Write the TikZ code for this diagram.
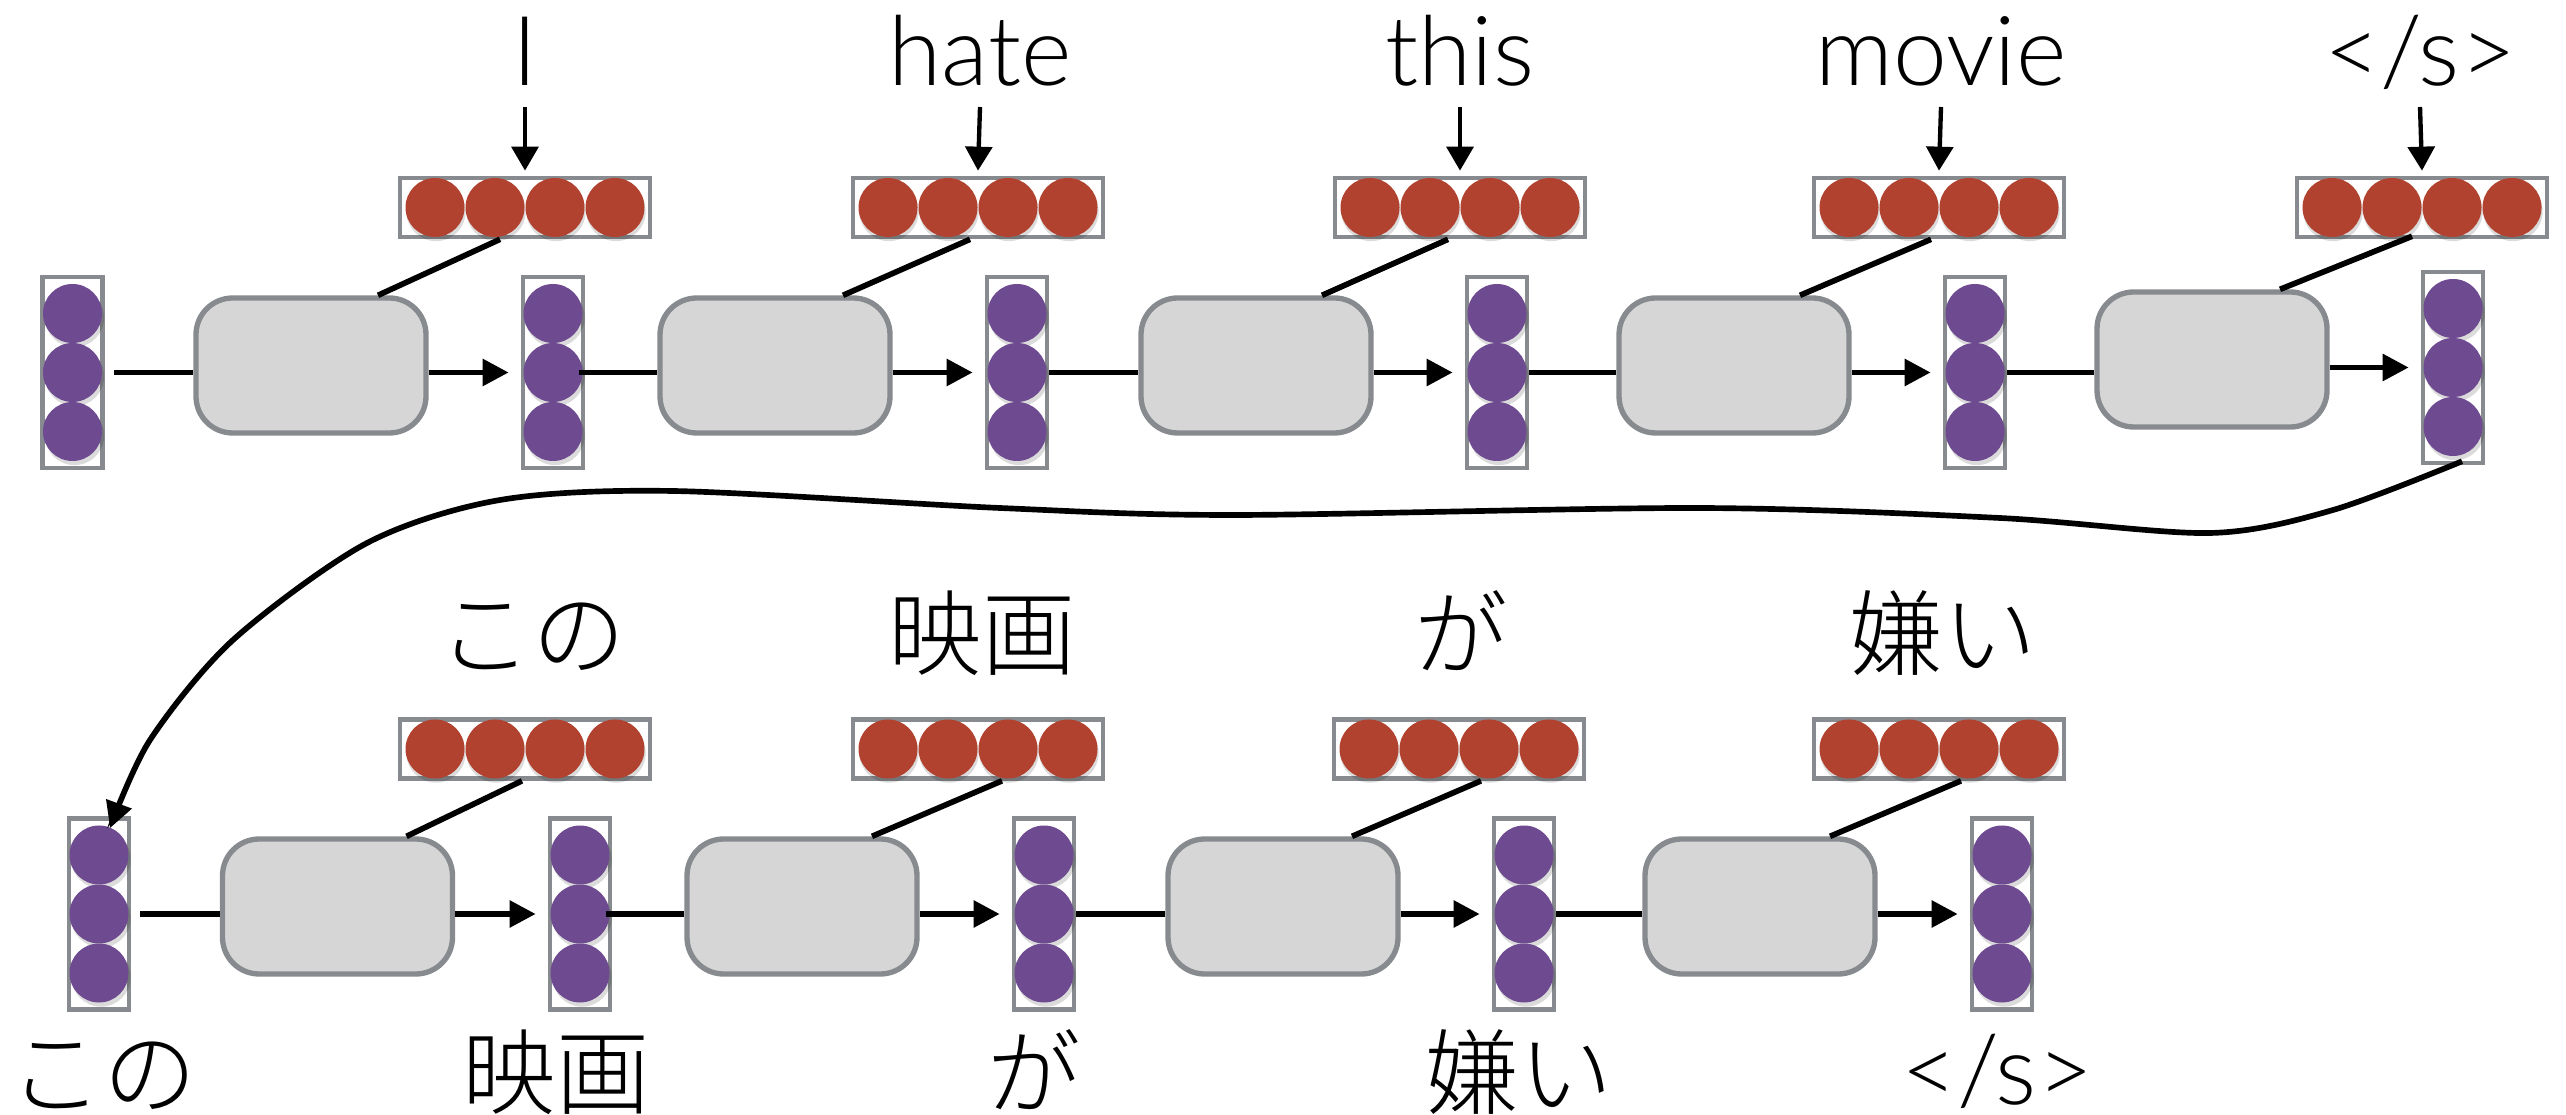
\documentclass[tikz,border=0pt]{standalone}
\usepackage{fontspec}
\setmainfont{Lato Light}
\newfontfamily\jpfont{Noto Sans CJK JP Light}
\usetikzlibrary{arrows.meta,calc}
\definecolor{boxgray}{HTML}{878A8E}
\definecolor{fillgray}{HTML}{D6D6D6}
\definecolor{redc}{HTML}{B24230}
\definecolor{purc}{HTML}{6E4A91}
\newcommand\purplecol[1]{%
  \foreach \dy in {-59,0,59} {
    \fill[black,opacity=0.14] ($(#1)+(2,\dy+4)$) circle (8.9pt);
    \fill[purc] ($(#1)+(0,\dy)$) circle (8.85pt);
  }}
\newcommand\redrow[1]{%
  \foreach \dx in {-90,-30,30,90} {
    \fill[black,opacity=0.14] ($(#1)+(\dx+1,4)$) circle (8.9pt);
    \fill[redc] ($(#1)+(\dx,0)$) circle (8.85pt);
  }}
\begin{document}
\begin{tikzpicture}[x=0.3pt,y=-0.3pt,
  colbox/.style={draw=boxgray,line width=1.4pt,fill=white,minimum width=18pt,minimum height=57.3pt,inner sep=0pt},
  redbox/.style={draw=boxgray,line width=1.4pt,fill=white,minimum width=75pt,minimum height=17.7pt,inner sep=0pt},
  cell/.style={draw=boxgray,line width=1.6pt,fill=fillgray,rounded corners=11pt,minimum width=69pt,minimum height=40.5pt,inner sep=0pt},
  word/.style={font=\fontsize{29pt}{35pt}\selectfont,inner sep=0pt,anchor=base},
  jword/.style={font=\jpfont\fontsize{28pt}{34pt}\selectfont,inner sep=0pt,anchor=base},
  conn/.style={line width=1.7pt},
  arr/.style={line width=1.7pt,-{Triangle[length=7.8pt,width=7.8pt]}},
  warr/.style={line width=1.3pt,-{Triangle[length=7.2pt,width=8pt]}},
]
\useasboundingbox (0,0) rectangle (2566,1115);
\clip (0,0) rectangle (2566,1115);

% ---------- top row ----------
\foreach \n/\x/\y in {c0/72.5/372.5,c1/553/372.5,c2/1017/372.5,c3/1497/372.5,c4/1975/372.5,c5/2453/367.5}
  {\node[colbox] (\n) at (\x,\y) {}; \purplecol{\n}}
\foreach \n/\x/\y in {r1/311/365.5,r2/775/365.5,r3/1256/365.5,r4/1734/365.5,r5/2212/359.5}
  {\node[cell] (\n) at (\x,\y) {};}
\foreach \n/\x in {e1/525,e2/978,e3/1460,e4/1939,e5/2422}
  {\node[redbox] (\n) at (\x,207.5) {}; \redrow{\n}}

\node[word] (w1) at (525,86) {I};
\node[word] (w2) at (980,86) {hate};
\node[word] (w3) at (1460,86) {this};
\node[word] (w4) at (1941,86) {movie};
\node[word] (w5) at (2420,86) {</s>};

\foreach \i in {1,...,5}
  {\draw[warr] ($(w\i.base)+(0,21)$) -- ($(e\i.north)+(0,-5)$);}

% horizontal flow, top
\draw[conn] ([xshift=2.7pt]c0.east) -- (r1.west |- c0);
\draw[conn] ([xshift=-2pt]c1.east) -- (r2.west |- c1);
\draw[conn] (c2.east) -- (r3.west |- c2);
\draw[conn] (c3.east) -- (r4.west |- c3);
\draw[conn] (c4.east) -- (r5.west |- c4);
\draw[arr] (r1.east |- c0) -- ([xshift=-3.6pt]c1.west);
\draw[arr] (r2.east |- c1) -- ([xshift=-3.6pt]c2.west);
\draw[arr] (r3.east |- c2) -- ([xshift=-3.6pt]c3.west);
\draw[arr] (r4.east |- c3) -- ([xshift=-3.6pt]c4.west);
\draw[arr] (r5.east |- c5) -- ([xshift=-3.6pt]c5.west);

% embeddings into cells, top
\draw[conn] ($(e1.south)+(-25,0)$) -- ($(r1.north)+(67,0)$);
\draw[conn] ($(e2.south)+(-8,0)$) -- ($(r2.north)+(68,0)$);
\draw[conn] ($(e3.south)+(-12,0)$) -- ($(r3.north)+(66,0)$);
\draw[conn] ($(e4.south)+(-8,0)$) -- ($(r4.north)+(66,0)$);
\draw[conn] ($(e5.south)+(-10,-3)$) -- ($(r5.north)+(68,0)$);

% ---------- bottom row ----------
\foreach \n/\x in {b0/99,b1/580,b2/1044,b3/1524,b4/2002}
  {\node[colbox] (\n) at (\x,914) {}; \purplecol{\n}}
\foreach \n/\x in {q1/337.5,q2/802,q3/1283,q4/1760}
  {\node[cell] (\n) at (\x,906.5) {};}
\foreach \n/\x in {f1/525,f2/978,f3/1459,f4/1939}
  {\node[redbox] (\n) at (\x,749) {}; \redrow{\n}}

\node[jword] (j1) at (532,669) {この};
\node[jword] (j2) at (982,669) {映画};
\node[jword] (j3) at (1461,669) {が};
\node[jword] (j4) at (1943,669) {嫌い};

\node[jword] (k1) at (103,1107) {この};
\node[jword] (k2) at (556,1107) {映画};
\node[jword] (k3) at (1034,1107) {が};
\node[jword] (k4) at (1519,1107) {嫌い};
\node[word] (k5) at (1997,1104) {</s>};

\draw[conn] ([xshift=2.7pt]b0.east) -- (q1.west |- b0);
\draw[conn] ([xshift=-2pt]b1.east) -- (q2.west |- b1);
\draw[conn] (b2.east) -- (q3.west |- b2);
\draw[conn] (b3.east) -- (q4.west |- b3);
\draw[arr] (q1.east |- b0) -- ([xshift=-3.6pt]b1.west);
\draw[arr] (q2.east |- b1) -- ([xshift=-3.6pt]b2.west);
\draw[arr] (q3.east |- b2) -- ([xshift=-3.6pt]b3.west);
\draw[arr] (q4.east |- b3) -- ([xshift=-3.6pt]b4.west);

\draw[conn] ($(f1.south)+(-3,0)$) -- ($(q1.north)+(69,0)$);
\draw[conn] ($(f2.south)+(24,0)$) -- ($(q2.north)+(70,0)$);
\draw[conn] ($(f3.south)+(22,0)$) -- ($(q3.north)+(69,0)$);
\draw[conn] ($(f4.south)+(22,0)$) -- ($(q4.north)+(70,0)$);

% ---------- long connector from encoder to decoder ----------
\coordinate (cs) at ($(c5.south)+(9,-4)$);
\coordinate (ce) at ($(b0.north)+(11,12)$);
\draw[arr] plot[smooth] coordinates {(cs) (2333,510) (2210,533) (2000,518) (1700,508) (1233,515) (1000,508) (673,491) (500,500) (367,543) (233,640) (150,740) (ce)};
\end{tikzpicture}
\end{document}
